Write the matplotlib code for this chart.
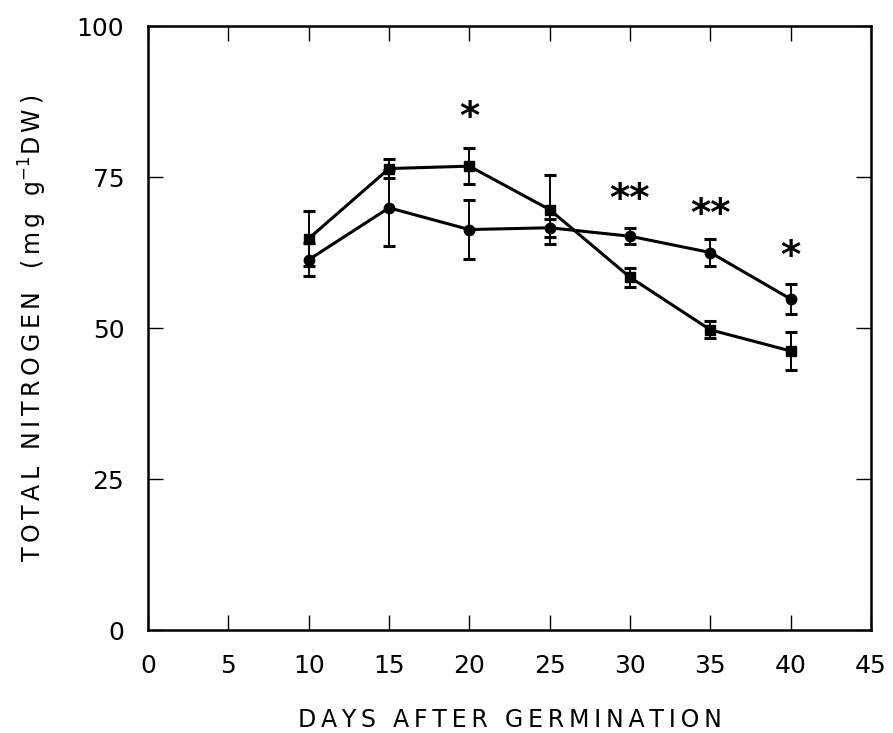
import numpy as np
import matplotlib.pyplot as plt

plt.rcParams['font.family'] = ['DejaVu Sans']

# days after germination
days = [10, 15, 20, 25, 30, 35, 40]

# total nitrogen, mg g-1 DW (mean and error)
n_square = [64.8, 76.4, 76.8, 69.6, 58.4, 49.7, 46.2]
e_square = [4.5, 1.6, 3.0, 5.7, 1.6, 1.4, 3.1]
n_circle = [61.3, 69.9, 66.3, 66.6, 65.2, 62.5, 54.8]
e_circle = [2.7, 6.3, 4.9, 1.5, 1.3, 2.2, 2.5]

# significance marks
sig_x = [20, 30, 35, 40]
sig_y = [86.2, 72.7, 70.2, 63.2]
sig_txt = ['*', '**', '**', '*']

THIN = '\u2009'


def spread(s):
    # wide letter spacing for the axis titles
    return THIN.join(s)


fig = plt.figure(figsize=(8.93, 7.33), dpi=100)
ax = fig.add_axes([0.1657, 0.1405, 0.8097, 0.824])

for y, e, m in [(n_square, e_square, 's'), (n_circle, e_circle, 'o')]:
    ax.errorbar(days, y, yerr=e, color='black', marker=m, markersize=7.5,
                linewidth=2.2, elinewidth=1.4, capsize=4.5, capthick=2.2)

for x, y, t in zip(sig_x, sig_y, sig_txt):
    ax.text(x, y - 1.5, t, ha='center', va='center', fontsize=28,
            fontweight='bold', color='black')

ax.set_xlim(0, 45)
ax.set_ylim(0, 100)
ax.set_xticks(np.arange(0, 46, 5))
ax.set_yticks([0, 25, 50, 75, 100])
ax.tick_params(direction='in', length=11, width=1, labelsize=18, pad=17,
               top=True, right=True)
for s in ax.spines.values():
    s.set_linewidth(1.8)

ax.set_xlabel(spread('DAYS AFTER GERMINATION'), fontsize=17, labelpad=22)
ax.set_ylabel(spread('TOTAL NITROGEN') + '   ' + spread('(mg g') + r'$^{-1}$'
              + spread('DW)'), fontsize=17, labelpad=20)

fig.savefig('out.png', dpi=100)
